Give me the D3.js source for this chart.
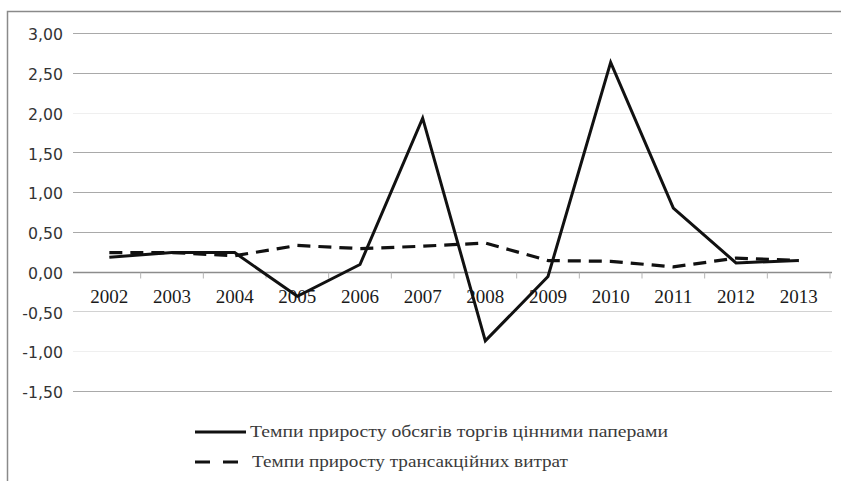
<!DOCTYPE html>
<html>
<head>
<meta charset="utf-8">
<script src="https://cdn.jsdelivr.net/npm/d3@7/dist/d3.min.js"></script>
<style>
  html, body { margin: 0; padding: 0; background: #fff; }
  svg { display: block; }
</style>
</head>
<body>
<svg id="chart" width="841" height="481"></svg>
<script>
// Growth rates, 2002–2013
const years = ["2002", "2003", "2004", "2005", "2006", "2007", "2008", "2009", "2010", "2011", "2012", "2013"];
const tradeGrowth = [0.18, 0.24, 0.24, -0.31, 0.09, 1.93, -0.87, -0.06, 2.63, 0.80, 0.11, 0.14];
const costGrowth  = [0.24, 0.24, 0.20, 0.33, 0.29, 0.32, 0.36, 0.14, 0.13, 0.06, 0.17, 0.14];
const yTicks = [3, 2.5, 2, 1.5, 1, 0.5, 0, -0.5, -1, -1.5];
const seriesNames = [
  "Темпи приросту обсягів торгів цінними паперами",
  "Темпи приросту трансакційних витрат"
];

const svg = d3.select("#chart");
const W = 841, H = 481;
const serif = "'Liberation Serif', 'Times New Roman', serif";

svg.append("rect").attr("width", W).attr("height", H).attr("fill", "#fff");

// outer chart frame (runs past right/bottom edges)
svg.append("rect")
  .attr("x", 7.5).attr("y", 11.5)
  .attr("width", W).attr("height", H)
  .attr("fill", "none").attr("stroke", "#8a8a8a").attr("stroke-width", 1.5);

const plot = { left: 78, right: 830, top: 33, bottom: 391 };

const x = d3.scaleBand().domain(years).range([plot.left, plot.right]);
const y = d3.scaleLinear().domain([-1.5, 3]).range([plot.bottom, plot.top]);

const fmt = v => d3.format(".2f")(v).replace(".", ",").replace("−", "-");

// horizontal gridlines
const gridColor = v => (v === 2 || v === -1) ? "#efefef" : (v === -0.5 ? "#d2d2d2" : "#a9a9a9");
svg.append("g")
  .selectAll("line")
  .data(yTicks.filter(v => v !== 0))
  .join("line")
  .attr("x1", plot.left - 5).attr("x2", plot.right + 2)
  .attr("y1", d => Math.round(y(d)) + 0.5).attr("y2", d => Math.round(y(d)) + 0.5)
  .attr("stroke", d => gridColor(d)).attr("stroke-width", 1.2);

// y-axis labels
const yAxis = d3.axisLeft(y).tickValues(yTicks).tickFormat(fmt).tickSize(0).tickPadding(0);
const gy = svg.append("g").attr("transform", `translate(${plot.left - 15},0)`).call(yAxis);
gy.select(".domain").remove();
gy.selectAll("text")
  .attr("font-family", "'DejaVu Sans', Verdana, sans-serif")
  .attr("font-size", 15)
  .attr("fill", "#333")
  .attr("dy", "0.45em")
  .attr("transform", "scale(1.05,1)");

// category axis at zero
const zeroY = Math.round(y(0)) + 0.5;
const gx = svg.append("g");
gx.append("line")
  .attr("x1", plot.left - 5).attr("x2", plot.right + 2)
  .attr("y1", zeroY).attr("y2", zeroY)
  .attr("stroke", "#8c8c8c").attr("stroke-width", 1.4);
gx.selectAll("line.tick")
  .data(years)
  .join("line")
  .attr("class", "tick")
  .attr("x1", d => x(d) + x.bandwidth()).attr("x2", d => x(d) + x.bandwidth())
  .attr("y1", zeroY).attr("y2", zeroY + 6)
  .attr("stroke", "#b5b5b5").attr("stroke-width", 1);
gx.selectAll("text")
  .data(years)
  .join("text")
  .attr("x", d => x(d) + x.bandwidth() / 2)
  .attr("y", zeroY + 30)
  .attr("text-anchor", "middle")
  .attr("font-family", serif)
  .attr("font-size", 18)
  .attr("fill", "#1a1a1a")
  .attr("textLength", 38)
  .attr("lengthAdjust", "spacingAndGlyphs")
  .text(d => d);

// series lines
const line = d3.line()
  .x((d, i) => x(years[i]) + x.bandwidth() / 2)
  .y(d => y(d))
  .curve(d3.curveLinear);

svg.append("path")
  .datum(costGrowth)
  .attr("d", line)
  .attr("fill", "none")
  .attr("stroke", "#111")
  .attr("stroke-width", 3.2)
  .attr("stroke-dasharray", "13,8")
  .attr("stroke-linejoin", "round");

svg.append("path")
  .datum(tradeGrowth)
  .attr("d", line)
  .attr("fill", "none")
  .attr("stroke", "#111")
  .attr("stroke-width", 3)
  .attr("stroke-linejoin", "miter");

// legend
const legend = svg.append("g");
const legendRows = [
  { name: seriesNames[0], dash: null, cy: 432, len: 418 },
  { name: seriesNames[1], dash: "15,13", cy: 462, len: 316 }
];
legendRows.forEach(r => {
  legend.append("line")
    .attr("x1", 195).attr("x2", r.dash ? 240 : 246)
    .attr("y1", r.cy).attr("y2", r.cy)
    .attr("stroke", "#111").attr("stroke-width", 3.2)
    .attr("stroke-dasharray", r.dash);
  legend.append("text")
    .attr("x", 250 + (r.dash ? 2 : 0)).attr("y", r.cy + 5)
    .attr("font-family", serif)
    .attr("font-size", 16)
    .attr("fill", "#3a3a3a")
    .attr("textLength", r.len)
    .attr("lengthAdjust", "spacingAndGlyphs")
    .text(r.name);
});
</script>
</body>
</html>
